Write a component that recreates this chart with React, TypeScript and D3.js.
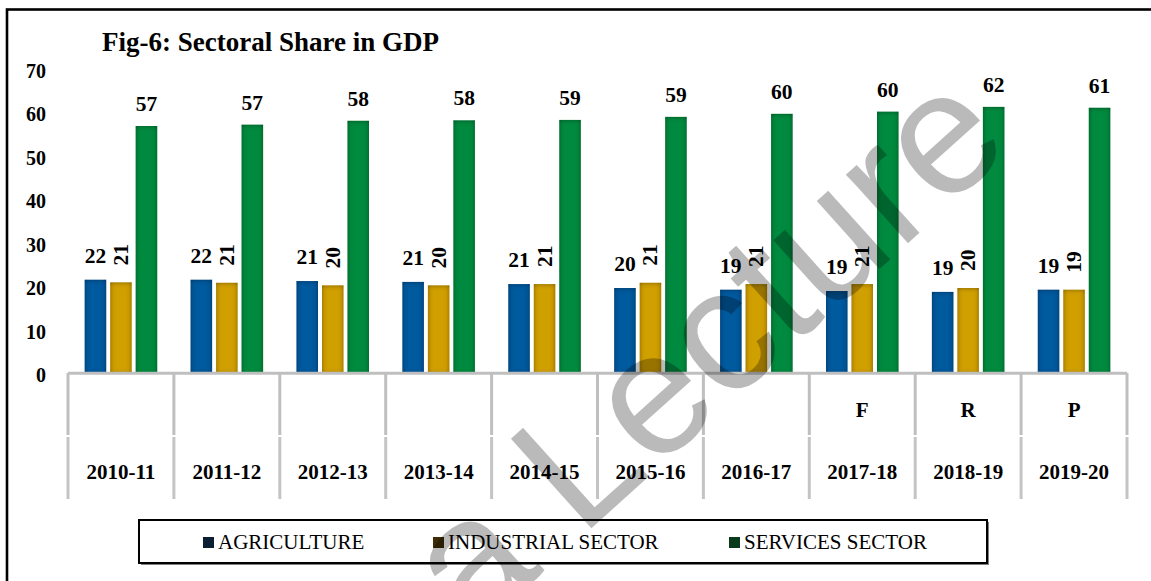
import React from 'react';
import * as d3 from 'd3';

const categories = ['2010-11', '2011-12', '2012-13', '2013-14', '2014-15', '2015-16', '2016-17', '2017-18', '2018-19', '2019-20'];
const topLabels = ['', '', '', '', '', '', '', 'F', 'R', 'P'];
const agriculture = [21.7, 21.7, 21.4, 21.2, 20.7, 19.8, 19.4, 19.1, 18.9, 19.4];
const industrial = [21.1, 21.0, 20.4, 20.4, 20.7, 21.0, 20.7, 20.7, 19.8, 19.4];
const services = [57.1, 57.4, 58.3, 58.4, 58.5, 59.2, 59.9, 60.4, 61.5, 61.3];
const seriesNames = ['AGRICULTURE', 'INDUSTRIAL SECTOR', 'SERVICES SECTOR'];
const yTicks = [0, 10, 20, 30, 40, 50, 60, 70];
const title = 'Fig-6: Sectoral Share in GDP';
const watermark = 'a Lecture';

const W = 1151;
const H = 581;
const FONT = 'Liberation Serif, Tinos, Times New Roman, DejaVu Serif, serif';

const seriesData = [agriculture, industrial, services];
const barColors = ['#005a9e', '#d09f00', '#008a3f'];
const legendColors = ['#0b1f33', '#3d2c06', '#0a3a1c'];
const legendX = [203, 433, 729];

export default function App() {
  const x0 = d3.scaleBand<string>().domain(categories).range([68, 1127]).padding(0);
  const x1 = d3.scaleBand<string>().domain(seriesNames).range([-36.25, 36.25]).paddingInner(0.157);
  const y = d3.scaleLinear().domain([0, 70]).range([374, 70]);
  const bw = x1.bandwidth();

  return (
    <div style={{ position: 'absolute', left: 0, top: 0 }}>
      <svg width={W} height={H} style={{ display: 'block' }}>
        <defs>
          <filter id="inset" x="-20%" y="-20%" width="140%" height="140%">
            <feFlood floodColor="#000" floodOpacity="0.8" result="flood" />
            <feComposite in="flood" in2="SourceAlpha" operator="out" result="outside" />
            <feGaussianBlur in="outside" stdDeviation="2.8" result="blur" />
            <feComposite in="blur" in2="SourceAlpha" operator="in" result="shadow" />
            <feMerge>
              <feMergeNode in="SourceGraphic" />
              <feMergeNode in="shadow" />
            </feMerge>
          </filter>
        </defs>
        <rect x={0} y={0} width={W} height={H} fill="#fff" />
        {/* outer frame */}
        <rect x={7} y={9.5} width={1300} height={800} fill="none" stroke="#000" strokeWidth={2.6} />

        {/* title */}
        <text x={102} y={51} fontFamily={FONT} fontSize={27} fontWeight="bold" fill="#000">{title}</text>

        {/* y tick labels */}
        {yTicks.map((t) => (
          <text key={t} x={46} y={y(t) + 1} fontFamily={FONT} fontSize={20} fontWeight="bold" textAnchor="end" dominantBaseline="central" fill="#000">
            {t}
          </text>
        ))}

        {/* bars */}
        {categories.map((c, i) => {
          const cx = (x0(c) as number) + x0.bandwidth() / 2;
          return (
            <g key={c}>
              {seriesNames.map((s, k) => {
                const v = seriesData[k][i];
                const bx = cx + (x1(s) as number);
                return (
                  <rect key={s} x={bx} y={y(v)} width={bw} height={y(0) - y(v)} fill={barColors[k]} filter="url(#inset)" />
                );
              })}
            </g>
          );
        })}

        {/* category axis */}
        <line x1={68} x2={1127} y1={373.2} y2={373.2} stroke="#bfbfbf" strokeWidth={3} />
        {categories.concat(['end']).map((c, i) => {
          const xx = i < categories.length ? (x0(c) as number) : 1127;
          return (
            <g key={'div' + i}>
              <line x1={xx} x2={xx} y1={373} y2={435} stroke="#bfbfbf" strokeWidth={3} />
              <line x1={xx} x2={xx} y1={437} y2={499} stroke="#c4c4c4" strokeWidth={3} />
            </g>
          );
        })}
        {categories.map((c, i) => {
          const cx = (x0(c) as number) + x0.bandwidth() / 2;
          return (
            <g key={'lab' + c}>
              <text x={cx} y={479} fontFamily={FONT} fontSize={21} fontWeight="bold" textAnchor="middle" fill="#000">{c}</text>
              {topLabels[i] ? (
                <text x={cx} y={417} fontFamily={FONT} fontSize={21} fontWeight="bold" textAnchor="middle" fill="#000">{topLabels[i]}</text>
              ) : null}
            </g>
          );
        })}

        {/* data labels */}
        {categories.map((c, i) => {
          const cx = (x0(c) as number) + x0.bandwidth() / 2;
          const bxA = cx + (x1(seriesNames[0]) as number) + bw / 2;
          const bxI = cx + (x1(seriesNames[1]) as number) + bw / 2;
          const bxS = cx + (x1(seriesNames[2]) as number) + bw / 2;
          const yA = y(agriculture[i]) - 17;
          const yI = y(industrial[i]) - 17;
          const yS = y(services[i]) - 15;
          return (
            <g key={'dl' + c} fontFamily={FONT} fontSize={21.5} fontWeight="bold" fill="#000">
              <text x={bxA} y={yA} textAnchor="middle">{Math.round(agriculture[i])}</text>
              <text x={bxI} y={yI} textAnchor="start" dominantBaseline="central" transform={`rotate(-90 ${bxI} ${yI})`}>
                {Math.round(industrial[i])}
              </text>
              <text x={bxS} y={yS} textAnchor="middle">{Math.round(services[i])}</text>
            </g>
          );
        })}

        {/* legend */}
        <rect x={139} y={520} width={848} height={43} fill="#fff" stroke="#000" strokeWidth={2} />
        <line x1={141} x2={989} y1={564.5} y2={564.5} stroke="#7f7f7f" strokeWidth={1} />
        <line x1={988.5} x2={988.5} y1={522} y2={565} stroke="#7f7f7f" strokeWidth={1} />
        {seriesNames.map((s, k) => (
          <g key={'lg' + s}>
            <rect x={legendX[k]} y={537} width={11} height={11} fill={legendColors[k]} />
            <text x={legendX[k] + 15} y={549} fontFamily={FONT} fontSize={21} fill="#000">{s}</text>
          </g>
        ))}

        {/* watermark */}
        <text
          x={595}
          y={525}
          fontFamily="Liberation Sans, Arial, sans-serif"
          fontSize={175}
          fill="#000"
          fillOpacity={0.27}
          textAnchor="start"
          transform="rotate(-42 595 525)"
        >
          <tspan dx={-165}>{watermark}</tspan>
        </text>
      </svg>
    </div>
  );
}
